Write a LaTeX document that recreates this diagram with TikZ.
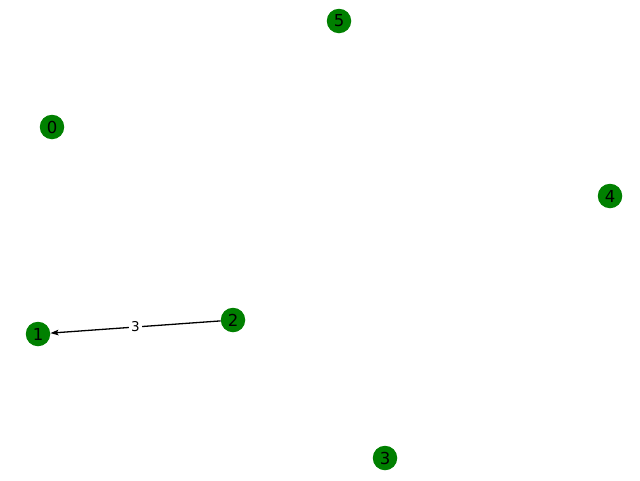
\documentclass[tikz,border=0pt]{standalone}
\usepackage{fontspec}
\setmainfont{DejaVu Sans}
\usetikzlibrary{arrows.meta}
\definecolor{ngreen}{RGB}{0,128,0}
\begin{document}
\begin{tikzpicture}[x=1pt,y=-1pt,
  vert/.style={circle,fill=ngreen,minimum size=24.5pt,inner sep=0pt,font=\fontsize{16.5}{16.5}\selectfont},
  edge/.style={-{Stealth[length=8pt,width=5.5pt,inset=1.5pt]},line width=1.3pt},
  elabel/.style={fill=white,inner sep=2.5pt,font=\fontsize{13.5}{14}\selectfont}]
\useasboundingbox (0,0) rectangle (640,480);
\node[vert] (n0) at (52,127) {0};
\node[vert] (n1) at (38,334) {1};
\node[vert] (n2) at (233,320) {2};
\node[vert] (n3) at (385,458) {3};
\node[vert] (n4) at (610,196) {4};
\node[vert] (n5) at (339,21) {5};
\draw[edge] (n2) -- node[elabel] {3} (n1);
\end{tikzpicture}
\end{document}
